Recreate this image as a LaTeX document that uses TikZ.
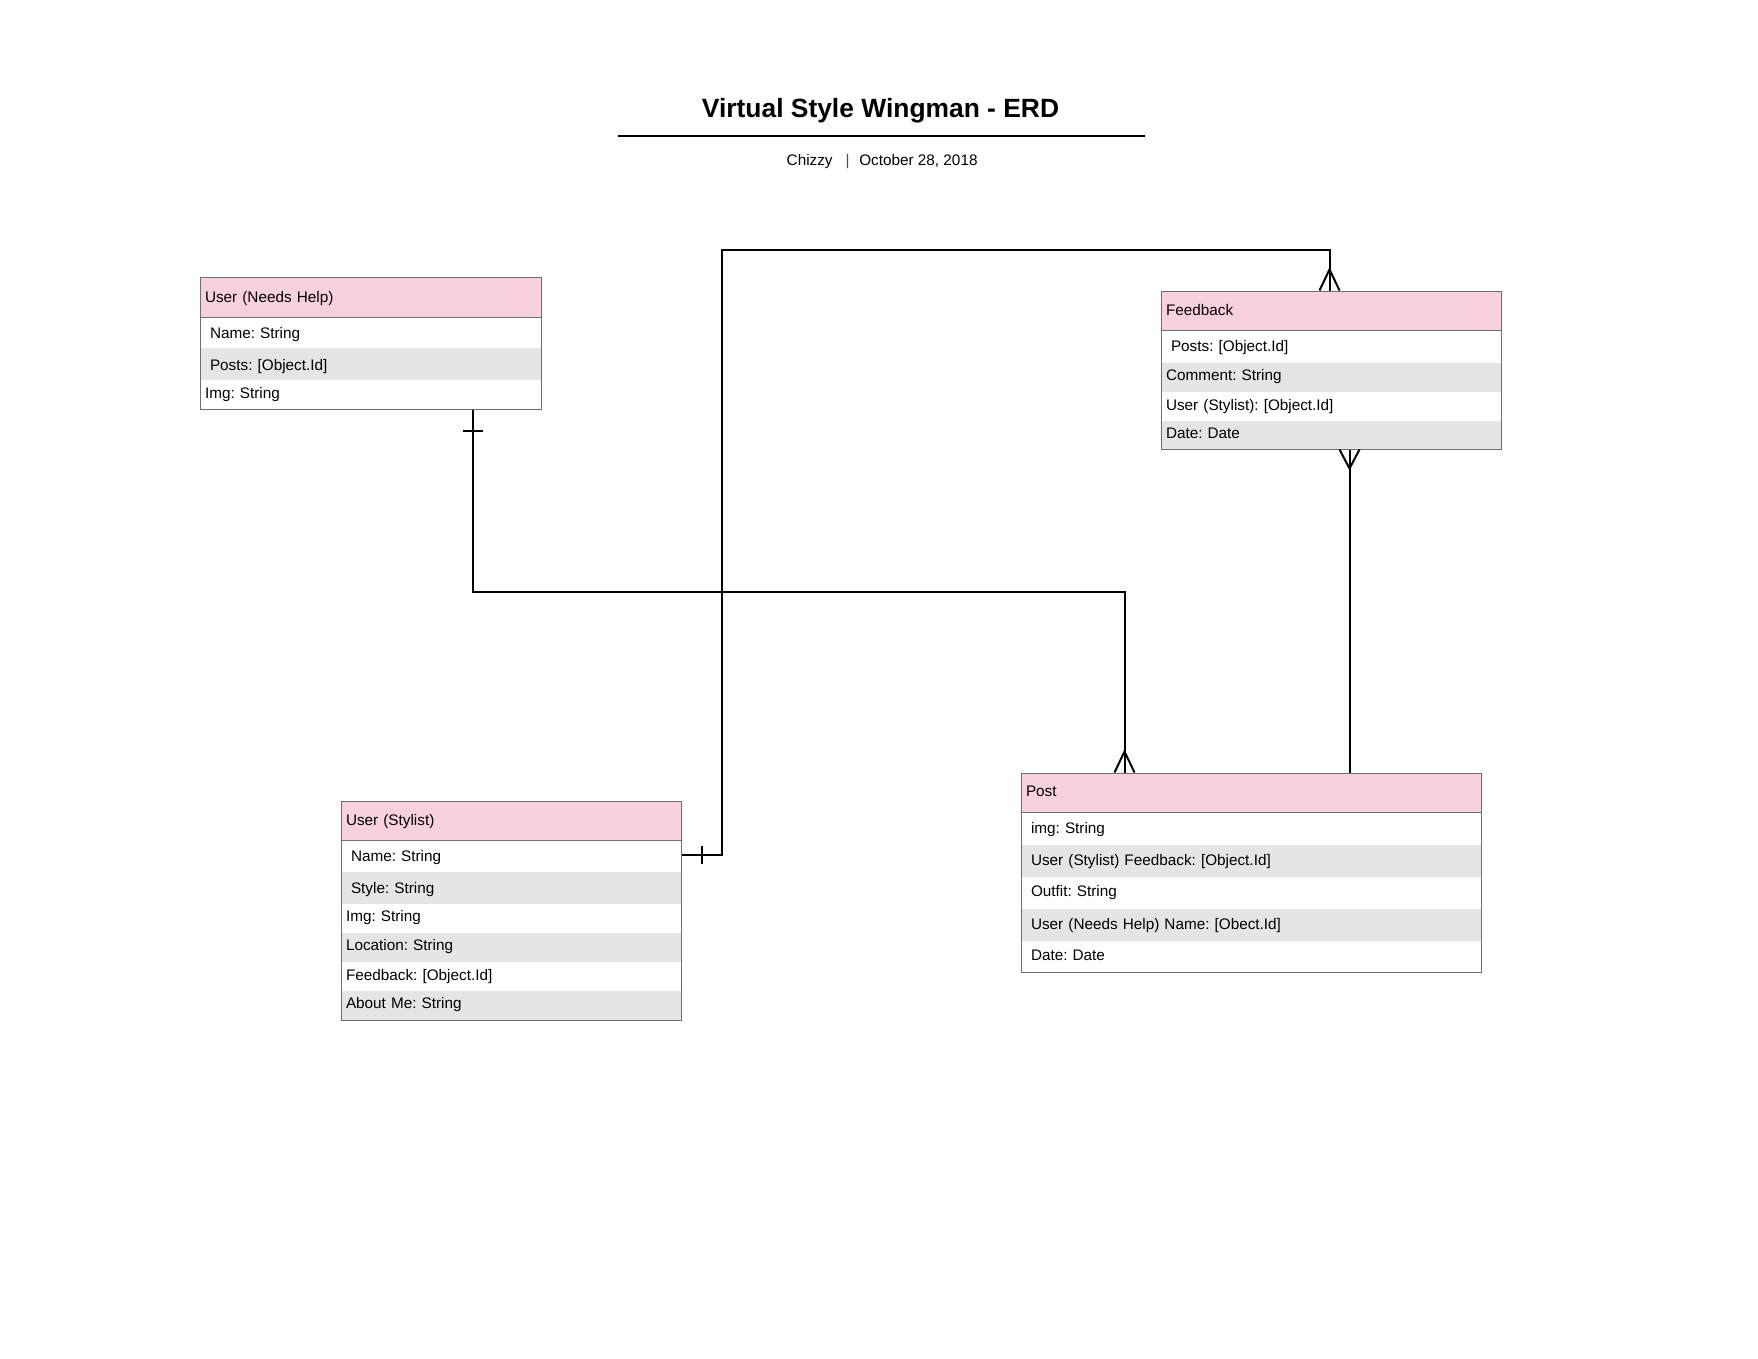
\documentclass[tikz,border=0pt]{standalone}
\usepackage{fontspec}
\setmainfont{Liberation Sans}
\usetikzlibrary{fit,calc}
\definecolor{hdrpink}{RGB}{249,209,220}
\definecolor{rowgrey}{RGB}{229,229,229}
\definecolor{bordergrey}{RGB}{110,110,110}
\newcommand\erdfont{\fontsize{15.3}{18}\selectfont}
\frenchspacing
\begin{document}
\begin{tikzpicture}[x=1pt,y=-1pt,
  erow/.style={anchor=north west, inner ysep=0pt, inner xsep=5pt, outer sep=0pt,
    text height=9.6pt, text depth=0pt, align=left, font=\erdfont},
  roww/.style={erow, fill=white},
  rowg/.style={erow, fill=rowgrey},
  widepad/.style={inner xsep=10pt},
  hdr/.style={erow, fill=hdrpink, draw=bordergrey, line width=1pt},
  entborder/.style={draw=bordergrey, line width=1pt, inner sep=0pt},
  conn/.style={draw=black, line width=2pt},
  plain/.style={inner sep=0pt, outer sep=0pt}]
\fill[white] (0,0) rectangle (1758,1358);
\useasboundingbox (0,0) rectangle (1758,1358);

% Title
\node[plain, anchor=base, font=\fontsize{26.4}{30}\selectfont\bfseries] (title) at (880.5,117.3) {Virtual Style Wingman - ERD};
\draw[line width=2pt] (618,135.7) -- (1145,135.7);
\node[plain, anchor=base west, font=\erdfont] (author) at (786.7,165) {Chizzy};
\node[plain, anchor=base, font=\erdfont, text=black!70] (sep) at (847.7,165) {|};
\node[plain, anchor=base west, font=\erdfont] (date) at (859.3,165) {October 28, 2018};

% User (Needs Help)
\node[roww, widepad, text width=321, minimum height=31, text height=11.6pt] (uh-1) at (200,317) {Name: String};
\node[rowg, widepad, text width=321, minimum height=32, text height=12pt] (uh-2) at (200,348) {Posts: [Object.Id]};
\node[roww, text width=331, minimum height=29, text height=7.6pt] (uh-3) at (200,380) {Img: String};
\node[hdr, text width=331, minimum height=40, text height=11.4pt] (uh-h) at (200,277) {User (Needs Help)};
\node[entborder, fit=(uh-h)(uh-3)] (uh) {};

% Feedback
\node[roww, widepad, text width=320, minimum height=33, text height=10.4pt] (fb-1) at (1161,330) {Posts: [Object.Id]};
\node[rowg, text width=330, minimum height=29, text height=6.4pt] (fb-2) at (1161,363) {Comment: String};
\node[roww, text width=330, minimum height=29, text height=7pt] (fb-3) at (1161,392) {User (Stylist): [Object.Id]};
\node[rowg, text width=330, minimum height=28, text height=6.6pt] (fb-4) at (1161,421) {Date: Date};
\node[hdr, text width=330, minimum height=39, text height=9pt] (fb-h) at (1161,291) {Feedback};
\node[entborder, fit=(fb-h)(fb-4)] (fb) {};

% User (Stylist)
\node[roww, widepad, text width=320, minimum height=32, text height=10pt] (st-1) at (341,840) {Name: String};
\node[rowg, widepad, text width=320, minimum height=32, text height=10.6pt] (st-2) at (341,872) {Style: String};
\node[roww, text width=330, minimum height=29, text height=6.4pt] (st-3) at (341,904) {Img: String};
\node[rowg, text width=330, minimum height=29, text height=6.4pt] (st-4) at (341,933) {Location: String};
\node[roww, text width=330, minimum height=29, text height=7pt] (st-5) at (341,962) {Feedback: [Object.Id]};
\node[rowg, text width=330, minimum height=29, text height=5.6pt] (st-6) at (341,991) {About Me: String};
\node[hdr, text width=330, minimum height=39, text height=9pt] (st-h) at (341,801) {User (Stylist)};
\node[entborder, fit=(st-h)(st-6)] (st) {};

% Post
\node[roww, widepad, text width=440, minimum height=33, text height=9.6pt] (po-1) at (1021,812) {img: String};
\node[rowg, widepad, text width=440, minimum height=32, text height=8pt] (po-2) at (1021,845) {User (Stylist) Feedback: [Object.Id]};
\node[roww, widepad, text width=440, minimum height=32, text height=7.4pt] (po-3) at (1021,877) {Outfit: String};
\node[rowg, widepad, text width=440, minimum height=32, text height=8pt] (po-4) at (1021,909) {User (Needs Help) Name: [Obect.Id]};
\node[roww, widepad, text width=440, minimum height=31, text height=8.4pt] (po-5) at (1021,941) {Date: Date};
\node[hdr, text width=450, minimum height=39, text height=8.8pt] (po-h) at (1021,773) {Post};
\node[entborder, fit=(po-h)(po-5)] (po) {};

% User (Needs Help) -> Post
\coordinate (c1a) at ($(uh.south west)+(273,0)$);
\coordinate (c1b) at ($(po.north west)+(104,0)$);
\draw[conn] (c1a) -- ($(c1a)+(0,182)$) -| (c1b);
\draw[conn] ($(c1a)+(-10,21)$) -- ++(20,0);
\draw[conn] ($(c1b)+(-10,0)$) -- ($(c1b)+(0,-21)$) -- ($(c1b)+(10,0)$);

% User (Stylist) -> Feedback
\coordinate (c2a) at ($(st.north east)+(0,54)$);
\coordinate (c2b) at ($(fb.north west)+(169,0)$);
\draw[conn] (c2a) -- ($(c2a)+(40.5,0)$) |- ($(c2b)+(0,-41)$) -- (c2b);
\draw[conn] ($(c2a)+(20,-9)$) -- ++(0,18);
\draw[conn] ($(c2b)+(-10,0)$) -- ($(c2b)+(0,-21)$) -- ($(c2b)+(10,0)$);

% Feedback -> Post
\coordinate (c3a) at ($(fb.south west)+(189,0)$);
\coordinate (c3b) at (c3a |- po.north);
\draw[conn] (c3a) -- (c3b);
\draw[conn] ($(c3a)+(-10,0)$) -- ($(c3a)+(0,19)$) -- ($(c3a)+(10,0)$);
\end{tikzpicture}
\end{document}
